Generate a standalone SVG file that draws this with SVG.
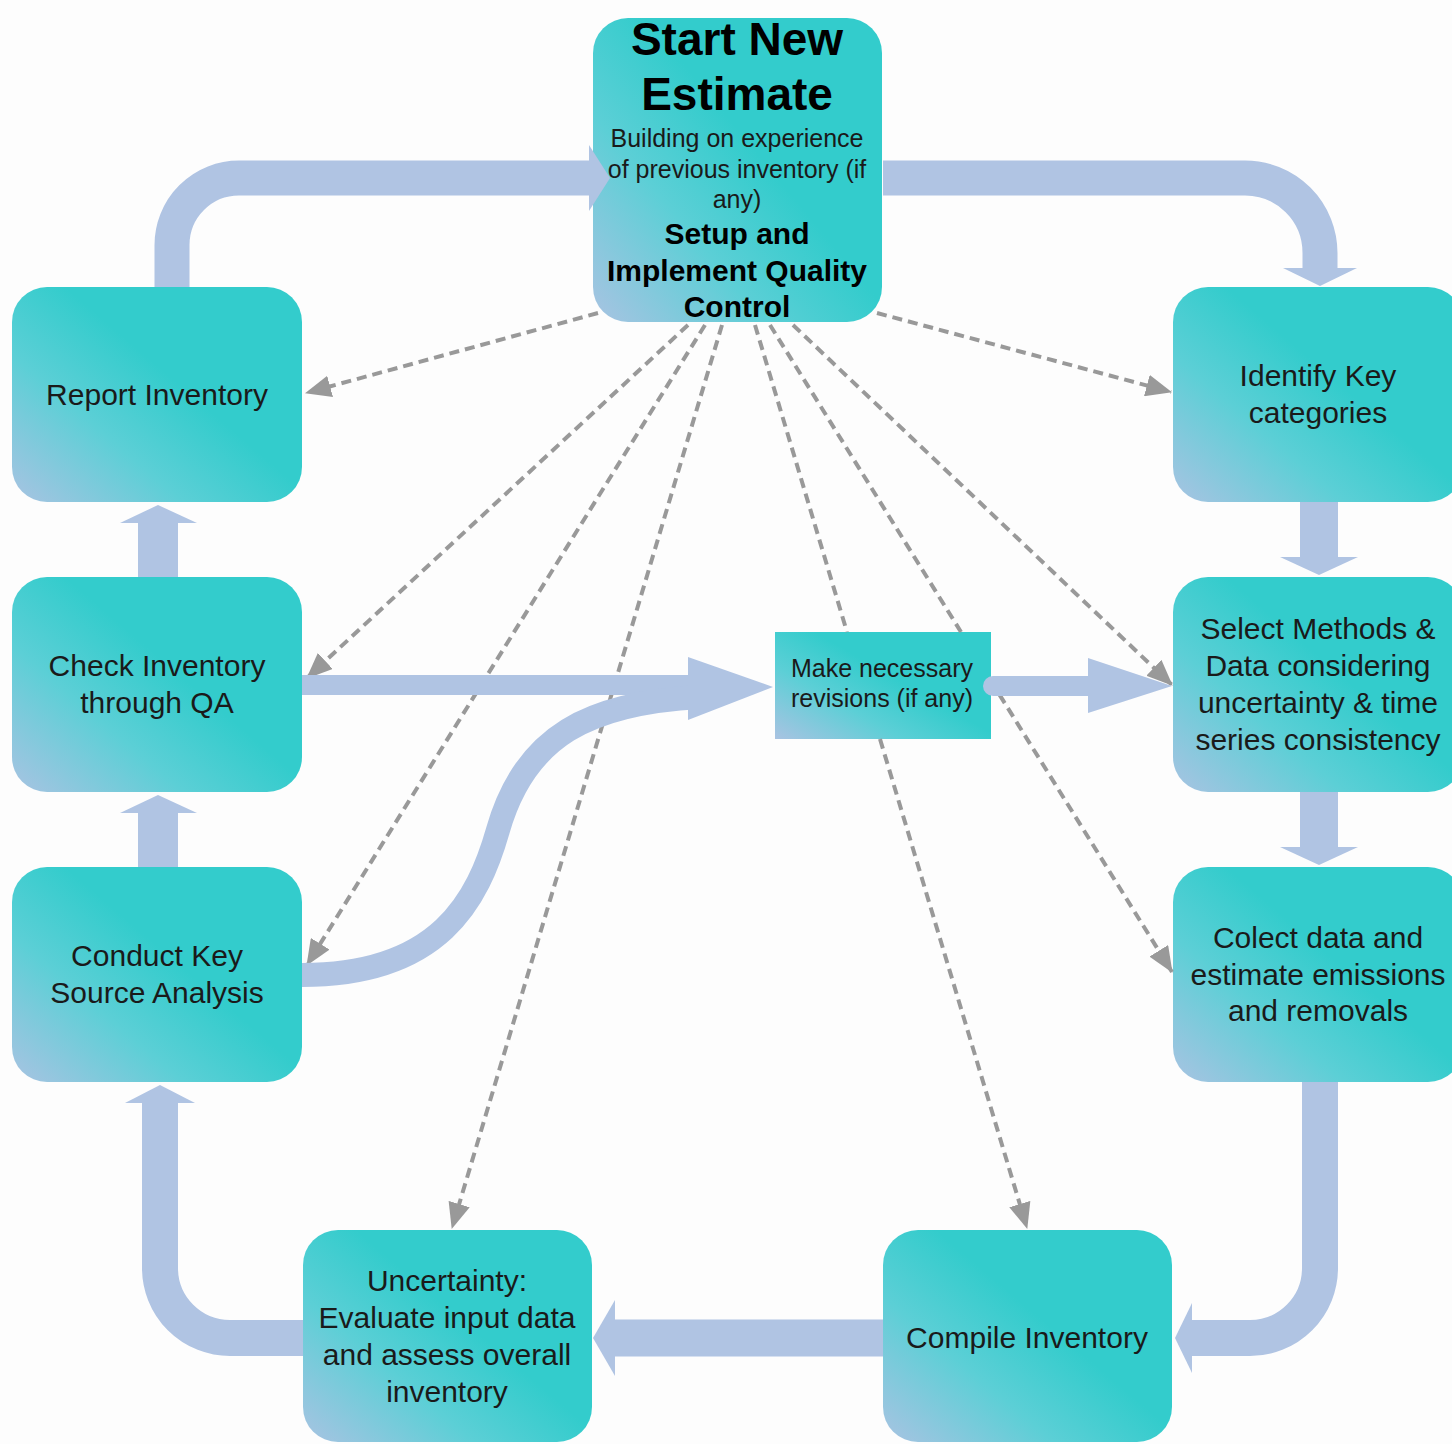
<svg xmlns="http://www.w3.org/2000/svg" width="1452" height="1444" viewBox="0 0 1452 1444">
  <defs>
    <linearGradient id="nodeFill" x1="0" y1="1" x2="0.75" y2="0.35">
      <stop offset="0" stop-color="#a9c3e2"/>
      <stop offset="0.45" stop-color="#5ccfd6"/>
      <stop offset="0.8" stop-color="#33cccc"/>
    </linearGradient>
    <marker id="dashHead" markerUnits="userSpaceOnUse" markerWidth="26" markerHeight="22" refX="25" refY="11" orient="auto">
      <path d="M0,0 L26,11 L0,22 z" fill="#999999"/>
    </marker>
    <style>
      .box { fill: url(#nodeFill); }
      .lbl { font-family: "Liberation Sans", Arial, sans-serif; font-size: 30px; fill: #1a1a1a; text-anchor: middle; }
      .small { font-size: 25px; }
      .head { font-weight: bold; fill: #000; }
      .band { fill: none; stroke: #b0c4e3; }
      .tip { fill: #b0c4e3; }
      .dash { fill: none; stroke: #999999; stroke-width: 4; stroke-dasharray: 10 6; }
      .arr { marker-end: url(#dashHead); }
    </style>
  </defs>

  <rect width="1452" height="1444" fill="#fdfdfd"/>

  <!-- process steps -->
  <g id="start">
    <rect class="box" x="593" y="18" width="289" height="304" rx="35"/>
    <text class="lbl head" style="font-size:46px" x="737" y="55">Start New</text>
    <text class="lbl head" style="font-size:46px" x="737" y="110">Estimate</text>
    <text class="lbl small" x="737" y="147">Building on experience</text>
    <text class="lbl small" x="737" y="178">of previous inventory (if</text>
    <text class="lbl small" x="737" y="208">any)</text>
    <text class="lbl head" x="737" y="244">Setup and</text>
    <text class="lbl head" x="737" y="281">Implement Quality</text>
    <text class="lbl head" x="737" y="317">Control</text>
  </g>

  <g id="report">
    <rect class="box" x="12" y="287" width="290" height="215" rx="35"/>
    <text class="lbl" x="157" y="405">Report Inventory</text>
  </g>

  <g id="check">
    <rect class="box" x="12" y="577" width="290" height="215" rx="35"/>
    <text class="lbl" x="157" y="676">Check Inventory</text>
    <text class="lbl" x="157" y="713">through QA</text>
  </g>

  <g id="keysource">
    <rect class="box" x="12" y="867" width="290" height="215" rx="35"/>
    <text class="lbl" x="157" y="966">Conduct Key</text>
    <text class="lbl" x="157" y="1003">Source Analysis</text>
  </g>

  <g id="uncertainty">
    <rect class="box" x="303" y="1230" width="289" height="212" rx="35"/>
    <text class="lbl" x="447" y="1291">Uncertainty:</text>
    <text class="lbl" x="447" y="1328">Evaluate input data</text>
    <text class="lbl" x="447" y="1365">and assess overall</text>
    <text class="lbl" x="447" y="1402">inventory</text>
  </g>

  <g id="compile">
    <rect class="box" x="883" y="1230" width="289" height="212" rx="35"/>
    <text class="lbl" x="1027" y="1348">Compile Inventory</text>
  </g>

  <g id="identify">
    <rect class="box" x="1173" y="287" width="290" height="215" rx="35"/>
    <text class="lbl" x="1318" y="386">Identify Key</text>
    <text class="lbl" x="1318" y="423">categories</text>
  </g>

  <g id="methods">
    <rect class="box" x="1173" y="577" width="290" height="215" rx="35"/>
    <text class="lbl" x="1318" y="639">Select Methods &amp;</text>
    <text class="lbl" x="1318" y="676">Data considering</text>
    <text class="lbl" x="1318" y="713">uncertainty &amp; time</text>
    <text class="lbl" x="1318" y="750">series consistency</text>
  </g>

  <g id="collect">
    <rect class="box" x="1173" y="867" width="290" height="215" rx="35"/>
    <text class="lbl" x="1318" y="948">Colect data and</text>
    <text class="lbl" x="1318" y="985">estimate emissions</text>
    <text class="lbl" x="1318" y="1021">and removals</text>
  </g>

  <g id="revisions">
    <rect class="box" x="775" y="632" width="216" height="107"/>
    <text class="lbl small" x="882" y="677">Make necessary</text>
    <text class="lbl small" x="882" y="707">revisions (if any)</text>
  </g>

  <!-- connectors -->
  <g id="connectors">
    <!-- quality control links (under the process bands) -->
    <path class="dash arr" d="M598,313 L306,393"/>
    <path class="dash arr" d="M688,325 L307,678"/>
    <path class="dash arr" d="M705,325 L307,965"/>
    <path class="dash arr" d="M722,325 L452,1228"/>
    <path class="dash" d="M755,325 L847,632"/>
    <path class="dash arr" d="M880,739 L1027,1228"/>
    <path class="dash" d="M770,325 L961,632"/>
    <path class="dash arr" d="M991,681 L1172,972"/>
    <path class="dash arr" d="M793,325 L1172,685"/>
    <path class="dash arr" d="M877,313 L1171,392"/>

    <!-- main cycle -->
    <path class="band" stroke-width="35" d="M172,287 V245 A67,67 0 0 1 239,178 H592"/>
    <polygon class="tip" points="589,145 610,178 589,211"/>

    <path class="band" stroke-width="35" d="M883,178 H1245 A75,75 0 0 1 1320,253 V270"/>
    <polygon class="tip" points="1283,268 1357,268 1320,286"/>

    <rect class="tip" x="1300" y="502" width="38" height="57"/>
    <polygon class="tip" points="1280,557 1358,557 1319,575"/>

    <rect class="tip" x="1300" y="792" width="38" height="57"/>
    <polygon class="tip" points="1280,847 1358,847 1319,865"/>

    <path class="band" stroke-width="36" d="M1320,1082 V1268 A70,70 0 0 1 1250,1338 H1190"/>
    <polygon class="tip" points="1192,1303 1192,1373 1175,1338"/>

    <path class="band" stroke-width="37" d="M883,1338 H612"/>
    <polygon class="tip" points="615,1300 615,1376 593,1338"/>

    <path class="band" stroke-width="36" d="M303,1338 H230 A70,70 0 0 1 160,1268 V1101"/>
    <polygon class="tip" points="125,1103 195,1103 160,1085"/>

    <rect class="tip" x="138" y="812" width="40" height="55"/>
    <polygon class="tip" points="120,813 197,813 158,795"/>

    <rect class="tip" x="138" y="522" width="40" height="55"/>
    <polygon class="tip" points="120,523 197,523 158,505"/>

    <!-- revision loop -->
    <rect class="tip" x="302" y="675" width="390" height="20"/>
    <path class="band" stroke-width="24" d="M302,975 C440,975 478,900 498,830 C525,735 590,703 700,697"/>
    <polygon class="tip" points="688,657 688,720 773,687"/>

    <path class="band" stroke-width="20" stroke-linecap="round" d="M993,686 H1092"/>
    <polygon class="tip" points="1088,658 1088,713 1172,686"/>
  </g>
</svg>
